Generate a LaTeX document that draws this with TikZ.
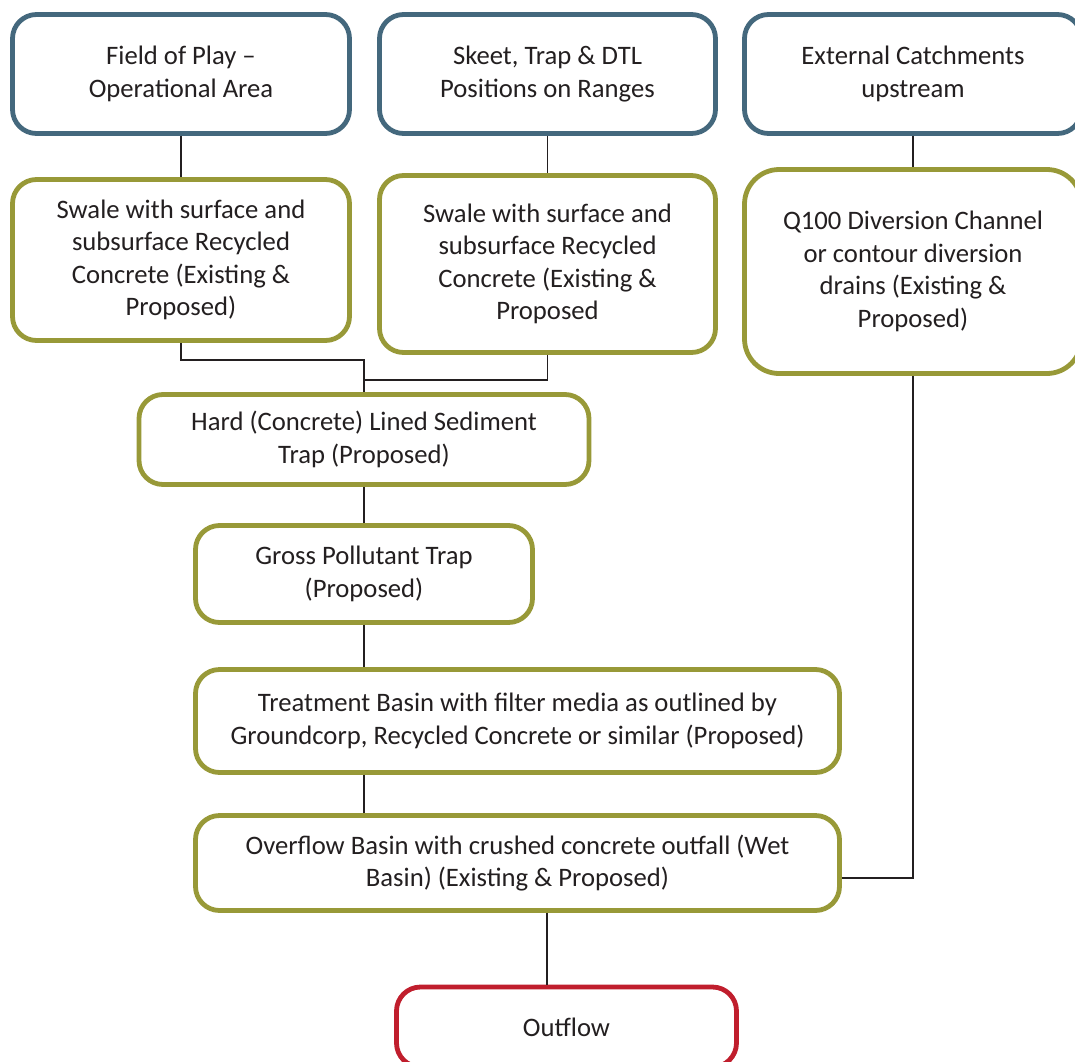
\documentclass[tikz,border=0pt]{standalone}
\usepackage{fontspec}
\setmainfont{Carlito}
\usetikzlibrary{positioning}
\definecolor{sourceblue}{RGB}{68,104,125}
\definecolor{stepolive}{RGB}{152,153,56}
\definecolor{outred}{RGB}{192,30,45}
\definecolor{inkgray}{RGB}{35,31,32}
\tikzset{
  every node/.style={font=\fontsize{20}{24.4}\selectfont, text=inkgray},
  box/.style={draw, rounded corners=18pt, line width=3.6pt, fill=white,
    align=center, inner sep=0pt},
  source box/.style={box, draw=sourceblue},
  stage box/.style={box, draw=stepolive},
  out box/.style={box, draw=outred},
  link/.style={line width=1.3pt, draw=inkgray}
}

\begin{document}
\begin{tikzpicture}[x=0.75pt, y=-0.75pt, line cap=butt, line join=miter]
  \useasboundingbox (0,0) rectangle (1075,1061);

  % sources
  \node[source box, minimum width=252.75pt, minimum height=89.25pt]
    (field) at (181,74) {Field of Play --\\Operational Area};
  \node[source box, minimum width=252pt, minimum height=89.25pt]
    (skeet) at (547.5,74) {Skeet, Trap \& DTL\\Positions on Ranges};
  \node[source box, minimum width=252.75pt, minimum height=89.25pt]
    (external) at (913,74) {External Catchments\\upstream};

  % swales and diversion
  \node[stage box, minimum width=252.75pt, minimum height=120.75pt]
    (swaleA) at (181,260) {Swale with surface and\\subsurface Recycled\\Concrete (Existing \&\\Proposed)};
  \node[stage box, minimum width=252pt, minimum height=132.75pt]
    (swaleB) at (547.5,264) {Swale with surface and\\subsurface Recycled\\Concrete (Existing \&\\Proposed};
  \node[stage box, rounded corners=26pt, minimum width=252.75pt, minimum height=153pt]
    (diversion) at (913,271.5) {Q100 Diversion Channel\\or contour diversion\\drains (Existing \&\\Proposed)};

  % treatment train
  \node[stage box, minimum width=337.5pt, minimum height=67.5pt]
    (sediment) at (364,439.5) {Hard (Concrete) Lined Sediment\\Trap (Proposed)};
  \node[stage box, minimum width=252.75pt, minimum height=72.75pt]
    (gpt) at (364,574) {Gross Pollutant Trap\\(Proposed)};
  \node[stage box, minimum width=483pt, minimum height=77.25pt]
    (treatment) at (517.5,721) {Treatment Basin with filter media as outlined by\\Groundcorp, Recycled Concrete or similar (Proposed)};
  \node[stage box, minimum width=483pt, minimum height=71.25pt]
    (overflow) at (517.5,863) {Overflow Basin with crushed concrete outfall (Wet\\Basin) (Existing \& Proposed)};
  \node[out box, minimum width=255pt, minimum height=60pt]
    (outflow) at (566.5,1027) {Outflow};

  % connectors
  \draw[link] (field.south) -- (swaleA.north);
  \draw[link] (skeet.south) -- (swaleB.north);
  \draw[link] (external.south) -- (diversion.north);
  \draw[link] (swaleA.south) -- ++(0,17) -| (sediment.north);
  \draw[link] (swaleB.south) -- ++(0,25) -| (sediment.north);
  \draw[link] (sediment.south) -- (gpt.north);
  \draw[link] (gpt.south) -- (gpt.south |- treatment.north);
  \draw[link] (treatment.south -| gpt.south) -- (overflow.north -| gpt.south);
  \draw[link] (diversion.south) |- ([yshift=-11.25pt]overflow.east);
  \draw[link] ([xshift=22pt]overflow.south) -- ([xshift=22pt]overflow.south |- outflow.north);
\end{tikzpicture}
\end{document}
